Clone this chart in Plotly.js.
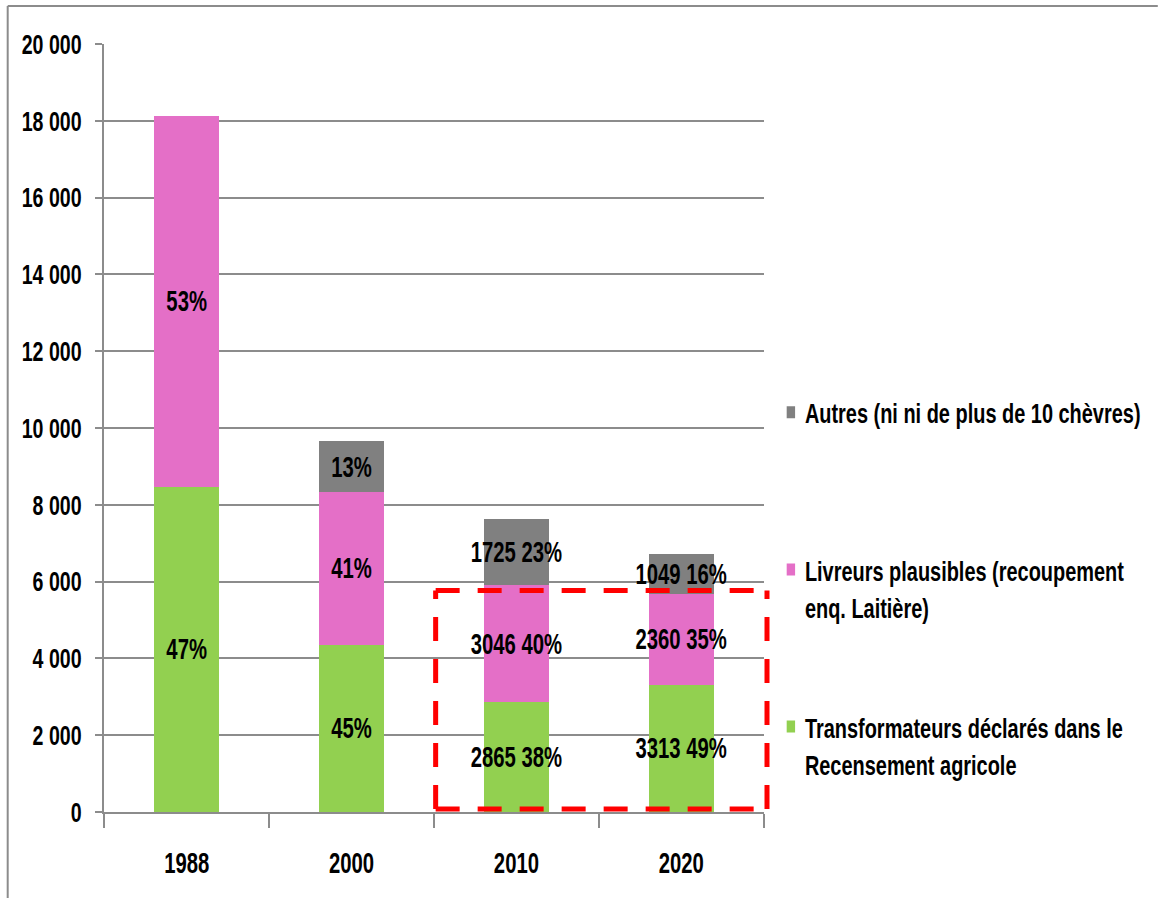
<!DOCTYPE html>
<html>
<head>
<meta charset="utf-8">
<script src="https://cdn.plot.ly/plotly-3.0.1.min.js"></script>
<style>
html,body{margin:0;padding:0;background:#fff;overflow:hidden;}
#wrap{width:1158px;height:898px;overflow:hidden;position:relative;}
#chart{position:absolute;left:0;top:0;transform-origin:0 0;}
</style>
</head>
<body>
<div id="wrap"><div id="chart"></div></div>
<script>
const years = ["1988", "2000", "2010", "2020"];
const transformateurs = [8475, 4355, 2865, 3313];
const livreurs = [9650, 3990, 3046, 2360];
const autres = [null, 1304, 1725, 1049];
const transformateursText = ["47%", "45%", "2865 38%", "3313 49%"];
const livreursText = ["53%", "41%", "3046 40%", "2360 35%"];
const autresText = ["", "13%", "1725 23%", "1049 16%"];
const yTicks = [0, 2000, 4000, 6000, 8000, 10000, 12000, 14000, 16000, 18000, 20000];
const seriesNames = [
  "Transformateurs déclarés dans le<br>Recensement agricole",
  "Livreurs plausibles (recoupement<br>enq. Laitière)",
  "Autres (ni ni de plus de 10 chèvres)<br>&nbsp;"
];
// highlighted zone (2010–2020), in category/axis units
const highlight = {x0: 1.51, x1: 3.52, y0: 80, y1: 5770};
const xRange = [-0.5, 3.5];
const toPaperX = v => (v - xRange[0]) / (xRange[1] - xRange[0]);

// the original uses a condensed bold face: draw wide, then squeeze horizontally
const S = 0.7;
const W = 1158, H = 898;
const FONT = "'Liberation Sans', Arial, sans-serif";
const colors = ["#92D050", "#E46FC7", "#808080"];

function barTrace(y, text, name, color, grp, rank) {
  return {
    type: "bar", x: years, y: y, name: name, text: text,
    legendgroup: grp, legendrank: rank,
    marker: {color: color, line: {width: 0}},
    textposition: "inside", insidetextanchor: "middle",
    textangle: 0, constraintext: "none",
    textfont: {family: FONT, size: 29, color: "#000", weight: "bold"},
    hoverinfo: "x+y+name"
  };
}

const data = [
  barTrace(transformateurs, transformateursText, seriesNames[0], colors[0], "g1", 3),
  barTrace(livreurs, livreursText, seriesNames[1], colors[1], "g2", 2),
  barTrace(autres, autresText, seriesNames[2], colors[2], "g3", 1)
];

const boxH = {color: "#FF0000", width: 5, dash: (24 / S) + "px," + (18 / S) + "px"};
const boxV = {color: "#FF0000", width: 5 / S, dash: "24px,18px"};
const bx0 = toPaperX(highlight.x0), bx1 = toPaperX(highlight.x1);

const layout = {
  width: W / S, height: H,
  barmode: "stack", bargap: 0.606,
  separators: ", ",
  paper_bgcolor: "#fff", plot_bgcolor: "#fff",
  margin: {l: 104 / S, r: (W - 764) / S, t: 44, b: 85.5, autoexpand: false},
  font: {family: FONT, size: 28, color: "#000", weight: "bold"},
  xaxis: {
    type: "category", range: xRange, showgrid: false,
    showline: true, linecolor: "#8c8c8c", linewidth: 2,
    ticks: "outside", tickson: "boundaries", ticklen: 14, tickcolor: "#8c8c8c", tickwidth: 2 / S,
    tickfont: {family: FONT, size: 29, color: "#000", weight: "bold"},
    ticklabelstandoff: 24
  },
  yaxis: {
    range: [0, 20000], tickvals: yTicks, tickformat: ",d",
    showgrid: true, gridcolor: "#8c8c8c", gridwidth: 2,
    showline: true, linecolor: "#8c8c8c", linewidth: 2 / S,
    ticks: "outside", ticklen: 7 / S, tickcolor: "#8c8c8c", tickwidth: 2,
    tickfont: {family: FONT, size: 28, color: "#000", weight: "bold"},
    ticklabelstandoff: 14, zeroline: false
  },
  legend: {
    x: 1.02, xanchor: "left", y: 0.553, yanchor: "top",
    traceorder: "grouped", tracegroupgap: 80, valign: "top",
    font: {family: FONT, size: 28.5, color: "#000", weight: "bold"},
    bgcolor: "rgba(0,0,0,0)"
  },
  shapes: [
    {type: "line", xref: "paper", yref: "y", x0: bx0, x1: bx1, y0: highlight.y1, y1: highlight.y1, line: boxH, layer: "above"},
    {type: "line", xref: "paper", yref: "y", x0: bx0, x1: bx1, y0: highlight.y0, y1: highlight.y0, line: boxH, layer: "above"},
    {type: "line", xref: "paper", yref: "y", x0: bx0, x1: bx0, y0: highlight.y0, y1: highlight.y1, line: boxV, layer: "above"},
    {type: "line", xref: "paper", yref: "y", x0: bx1, x1: bx1, y0: highlight.y0, y1: highlight.y1, line: boxV, layer: "above"},
    {type: "line", xref: "paper", yref: "paper", x0: -0.1465, x1: 1.6, y0: 1.0494, y1: 1.0494,
     line: {color: "#8c8c8c", width: 2}},
    {type: "line", xref: "paper", yref: "paper", x0: -0.1465, x1: -0.1465, y0: 1.0494, y1: -0.12,
     line: {color: "#8c8c8c", width: 2 / S}}
  ]
};

document.getElementById("chart").style.transform = "scaleX(" + S + ")";
Plotly.newPlot("chart", data, layout, {displayModeBar: false, staticPlot: true});
</script>
</body>
</html>
